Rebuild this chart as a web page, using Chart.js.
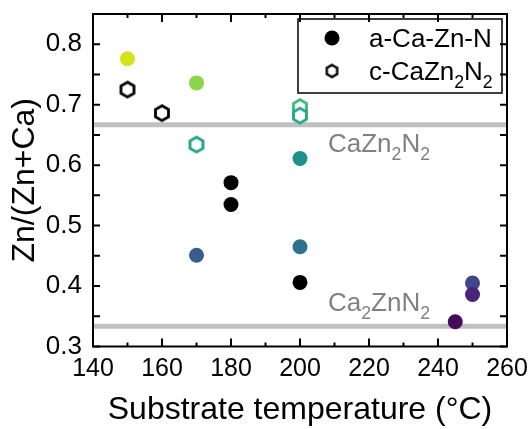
<!DOCTYPE html>
<html>
<head>
  <meta charset="utf-8" />
  <title>Zn/(Zn+Ca) vs substrate temperature</title>
  <script src="https://cdn.jsdelivr.net/npm/chart.js@4.4.1/dist/chart.umd.min.js"></script>
  <style>
    body { margin: 0; background: #fff; }
  </style>
</head>
<body>
  <canvas id="ratioChart" width="532" height="429"></canvas>
  <script>
    // a-Ca-Zn-N (filled circles)
    var amorphousTemp = [150, 170, 170, 180, 180, 200, 200, 200, 245, 250, 250];
    var amorphousRatio = [0.776, 0.736, 0.451, 0.571, 0.535, 0.611, 0.465, 0.406, 0.341, 0.405, 0.386];
    var amorphousColors = ['#d2e21b', '#8bd646', '#365d8d', '#000000', '#000000', '#21908c',
                           '#2c728e', '#000000', '#450b5d', '#3f4788', '#482576'];

    // c-CaZn2N2 (open hexagons)
    var crystalTemp = [150, 160, 170, 200, 200];
    var crystalRatio = [0.725, 0.686, 0.634, 0.696, 0.682];
    var crystalColors = ['#000000', '#000000', '#1fa088', '#3cbb75', '#22a884'];

    // reference compositions
    var phaseRatio = [2 / 3, 1 / 3];
    var phaseNames = [[['CaZn', 0], ['2', 1], ['N', 0], ['2', 1]],
                      [['Ca', 0], ['2', 1], ['ZnN', 0], ['2', 1]]];

    var xTicks = [140, 160, 180, 200, 220, 240, 260];
    var xMinor = [150, 170, 190, 210, 230, 250];
    var yTicks = [0.3, 0.4, 0.5, 0.6, 0.7, 0.8];
    var yMinor = [0.35, 0.45, 0.55, 0.65, 0.75];

    var legendNames = [[['a-Ca-Zn-N', 0]],
                       [['c-CaZn', 0], ['2', 1], ['N', 0], ['2', 1]]];

    var FONT = '"Liberation Sans", Arial, sans-serif';

    function hexagon(color, r, lw) {
      var size = Math.ceil(2 * r + lw + 4);
      var c = document.createElement('canvas');
      c.width = size; c.height = size;
      var g = c.getContext('2d');
      g.beginPath();
      for (var k = 0; k < 6; k++) {
        var a = -Math.PI / 2 + k * Math.PI / 3;
        var px = size / 2 + r * Math.cos(a), py = size / 2 + r * Math.sin(a);
        if (k === 0) g.moveTo(px, py); else g.lineTo(px, py);
      }
      g.closePath();
      g.fillStyle = '#fff';
      g.fill();
      g.lineWidth = lw;
      g.strokeStyle = color;
      g.stroke();
      return c;
    }

    function drawRich(ctx, parts, x, y, size, color) {
      ctx.save();
      ctx.fillStyle = color;
      ctx.textAlign = 'left';
      ctx.textBaseline = 'alphabetic';
      parts.forEach(function(p) {
        var s = p[1] ? size * 0.68 : size;
        ctx.font = s + 'px ' + FONT;
        ctx.fillText(p[0], x, y + (p[1] ? size * 0.3 : 0));
        x += ctx.measureText(p[0]).width;
      });
      ctx.restore();
    }

    var framePlugin = {
      id: 'frame',
      afterDatasetsDraw: function(chart) {
        var ctx = chart.ctx, a = chart.chartArea;
        var xs = chart.scales.x, ys = chart.scales.y;
        ctx.save();

        // phase labels under/over the grey reference lines
        phaseRatio.forEach(function(r, i) {
          var py = ys.getPixelForValue(r);
          drawRich(ctx, phaseNames[i], a.left + 235, i === 0 ? py + 27 : py - 15, 26, '#808080');
        });

        ctx.strokeStyle = '#000';
        ctx.lineWidth = 2;
        ctx.strokeRect(a.left, a.top, a.right - a.left, a.bottom - a.top);
        ctx.beginPath();
        function xt(v, len) {
          var px = xs.getPixelForValue(v);
          ctx.moveTo(px, a.bottom); ctx.lineTo(px, a.bottom - len);
          ctx.moveTo(px, a.top); ctx.lineTo(px, a.top + len);
        }
        function yt(v, len) {
          var py = ys.getPixelForValue(v);
          ctx.moveTo(a.left, py); ctx.lineTo(a.left + len, py);
          ctx.moveTo(a.right, py); ctx.lineTo(a.right - len, py);
        }
        xTicks.forEach(function(v) { xt(v, 8); });
        xMinor.forEach(function(v) { xt(v, 4); });
        yTicks.forEach(function(v) { yt(v, 7); });
        yMinor.forEach(function(v) { yt(v, 7); });
        ctx.stroke();

        // legend
        var lx = a.right - 209, ly = a.top + 5;
        ctx.lineWidth = 1.5;
        ctx.strokeRect(lx, ly, 204, 74);
        ctx.fillStyle = '#000';
        ctx.beginPath();
        ctx.arc(lx + 34, ly + 19, 7.5, 0, Math.PI * 2);
        ctx.fill();
        var hx = hexagon('#000', 6, 2.4);
        ctx.drawImage(hx, lx + 34 - hx.width / 2, ly + 52 - hx.height / 2);
        drawRich(ctx, legendNames[0], lx + 71, ly + 28, 26, '#000');
        drawRich(ctx, legendNames[1], lx + 71, ly + 61, 26, '#000');
        ctx.restore();
      }
    };

    var lineSets = phaseRatio.map(function(r) {
      return {
        type: 'line',
        data: [{ x: xTicks[0], y: r }, { x: xTicks[xTicks.length - 1], y: r }],
        borderColor: '#c0c0c0',
        borderWidth: 5,
        pointRadius: 0,
        order: 10
      };
    });

    new Chart(document.getElementById('ratioChart').getContext('2d'), {
      type: 'scatter',
      data: {
        datasets: [{
          label: 'c-CaZn2N2',
          data: crystalTemp.map(function(t, i) { return { x: t, y: crystalRatio[i] }; }),
          pointStyle: crystalColors.map(function(c) { return hexagon(c, 7.5, 2.8); }),
          order: 1
        }, {
          label: 'a-Ca-Zn-N',
          data: amorphousTemp.map(function(t, i) { return { x: t, y: amorphousRatio[i] }; }),
          backgroundColor: amorphousColors,
          borderWidth: 0,
          pointRadius: 7.5,
          order: 0
        }].concat(lineSets)
      },
      options: {
        responsive: false,
        animation: false,
        layout: { padding: { top: 14, right: 25, left: 0, bottom: 0 } },
        plugins: { legend: { display: false }, tooltip: { enabled: false } },
        scales: {
          x: {
            type: 'linear',
            min: 140, max: 260,
            afterBuildTicks: function(s) { s.ticks = xTicks.map(function(v) { return { value: v }; }); },
            afterFit: function(s) { s.height = 82.5; s.paddingLeft = 0; s.paddingRight = 0; },
            grid: { display: false },
            border: { display: false },
            ticks: { color: '#000', font: { family: FONT, size: 25 }, padding: 0, maxRotation: 0 },
            title: { display: true, text: 'Substrate temperature (°C)', color: '#000',
                     font: { family: FONT, size: 32 }, padding: 0 }
          },
          y: {
            min: 0.3, max: 0.85,
            afterBuildTicks: function(s) { s.ticks = yTicks.map(function(v) { return { value: v }; }); },
            afterFit: function(s) { s.width = 93; s.paddingTop = 0; s.paddingBottom = 0; },
            grid: { display: false },
            border: { display: false },
            ticks: { color: '#000', font: { family: FONT, size: 26 }, padding: 3,
                     callback: function(v) { return v.toFixed(1); } },
            title: { display: true, text: 'Zn/(Zn+Ca)', color: '#000',
                     font: { family: FONT, size: 32 }, padding: { top: 6, bottom: 0 } }
          }
        }
      },
      plugins: [framePlugin]
    });
  </script>
</body>
</html>
